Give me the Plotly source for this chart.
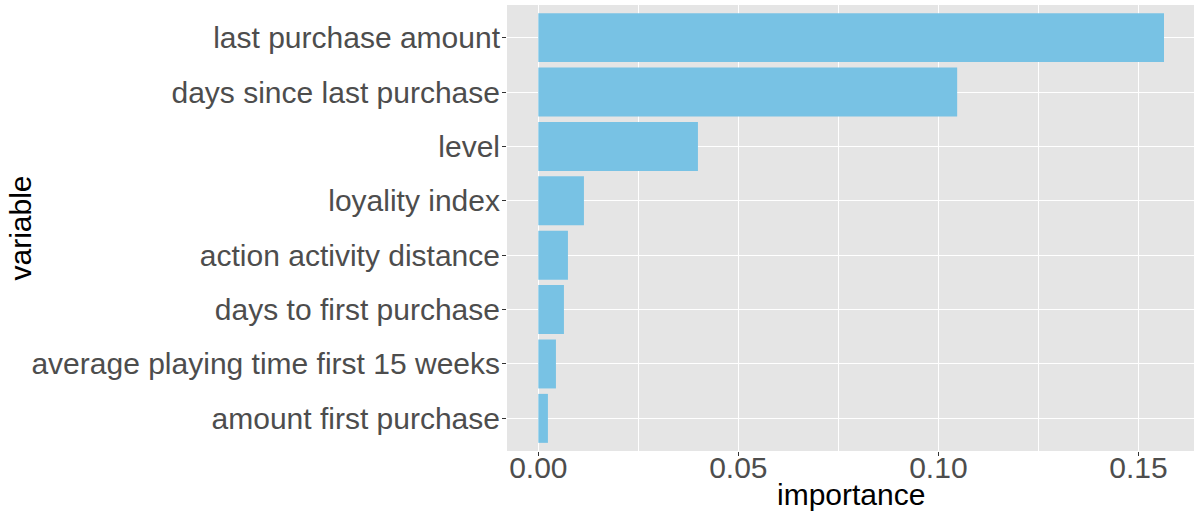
import plotly.graph_objects as go

variables = ["last purchase amount", "days since last purchase", "level", "loyality index",
             "action activity distance", "days to first purchase",
             "average playing time first 15 weeks", "amount first purchase"]
importance = [0.1564, 0.1047, 0.0399, 0.0114, 0.0074, 0.0064, 0.0044, 0.0024]
x_ticks = [0.0, 0.05, 0.10, 0.15]
x_tick_labels = ["0.00", "0.05", "0.10", "0.15"]

order = list(reversed(variables))

fig = go.Figure(go.Bar(
    x=importance, y=variables, orientation="h",
    marker=dict(color="#78C2E4", line=dict(width=0)),
    width=0.9,
))

W, H = 1200, 511
L, R, T, B = 507, 6, 5, 60

fig.update_layout(
    width=W, height=H,
    margin=dict(l=L, r=R, t=T, b=B, autoexpand=False),
    paper_bgcolor="white",
    plot_bgcolor="#E5E5E5",
    font=dict(family="Liberation Sans, Arial, sans-serif", size=30, color="#4D4D4D"),
    showlegend=False,
    bargap=0.1,
)
fig.update_xaxes(
    range=[-0.00783, 0.1639],
    tickvals=x_ticks, ticktext=x_tick_labels,
    showgrid=True, gridcolor="white", gridwidth=1.2,
    minor=dict(tickvals=[0.025, 0.075, 0.125], showgrid=True, gridcolor="white", gridwidth=0.5, ticks=""),
    zeroline=False, showline=False,
    ticks="outside", ticklen=4, tickcolor="#333333", tickwidth=1,
    tickfont=dict(size=30, color="#4D4D4D"),
    ticklabelstandoff=-14,
    automargin=False,
)
fig.update_yaxes(
    type="category", categoryorder="array", categoryarray=order,
    range=[-0.6, 7.6],
    showgrid=True, gridcolor="white", gridwidth=1.2,
    zeroline=False, showline=False,
    ticks="outside", ticklen=4, tickcolor="#333333", tickwidth=1,
    tickfont=dict(size=30, color="#4D4D4D"),
    ticklabelstandoff=-4,
    automargin=False,
)
fig.add_annotation(text="importance", xref="paper", yref="paper",
                   x=0.5, y=0, yshift=-43, yanchor="middle", showarrow=False,
                   font=dict(size=30, color="black"))
fig.add_annotation(text="variable", xref="paper", yref="paper",
                   x=0, xshift=-507 + 1, xanchor="left", y=0.5, textangle=-90, showarrow=False,
                   font=dict(size=30, color="black"))

fig.write_html("out.html", config={"displayModeBar": False},
               post_script="document.body.style.margin='0';")
